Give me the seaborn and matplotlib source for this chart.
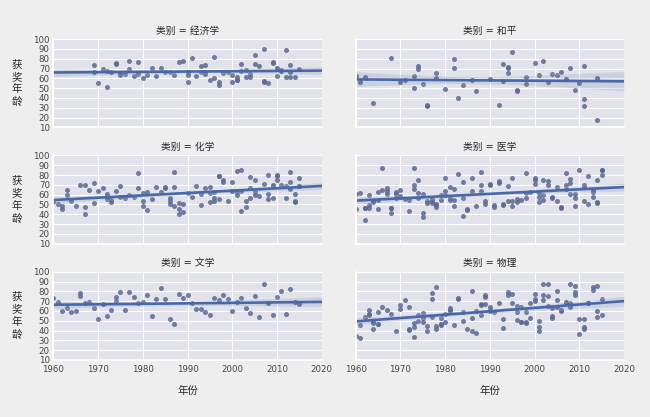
import matplotlib
matplotlib.use("Agg")
import matplotlib.pyplot as plt
import numpy as np
import pandas as pd
import seaborn as sns

# ---------------- data (year -> ages of laureates that year) ----------------
categories = ["经济学", "和平", "化学", "医学", "文学", "物理"]

econ = {1969: [74, 66], 1970: [55], 1971: [70], 1972: [68, 51], 1973: [67], 1974: [76, 75],
        1975: [63, 65], 1976: [64], 1977: [78, 70], 1978: [62], 1979: [77, 64], 1980: [60],
        1981: [63], 1982: [71], 1983: [62], 1984: [71], 1985: [67], 1986: [67], 1987: [63],
        1988: [77], 1989: [78], 1990: [63, 67, 56], 1991: [81], 1992: [62], 1993: [67, 73],
        1994: [74, 66, 64], 1995: [58], 1996: [60, 82], 1997: [53, 56], 1998: [65], 1999: [67],
        2000: [56, 63], 2001: [61, 58, 58], 2002: [68, 75], 2003: [61, 69], 2004: [61, 64],
        2005: [75, 84], 2006: [73], 2007: [90, 57, 56], 2008: [55], 2009: [76, 77],
        2010: [70, 71, 62], 2011: [68, 69], 2012: [61, 89], 2013: [74, 61, 67], 2014: [61],
        2015: [70]}

peace = {1960: [62], 1961: [56], 1962: [61], 1964: [35], 1968: [81], 1970: [56], 1971: [58],
         1973: [50, 62], 1974: [70, 73], 1975: [54], 1976: [33, 32], 1978: [60, 65], 1980: [49],
         1982: [80, 71], 1983: [40], 1984: [53], 1986: [58], 1987: [47], 1990: [59], 1992: [33],
         1993: [57, 75], 1994: [65, 71, 72], 1995: [87], 1996: [48, 47], 1998: [61, 54],
         2000: [76], 2001: [63], 2002: [78], 2003: [56], 2004: [64], 2005: [63], 2006: [66],
         2007: [59], 2008: [71], 2009: [48], 2010: [55], 2011: [73, 39, 32], 2014: [60, 17]}

chem = {1960: [52], 1961: [50], 1962: [48, 45], 1963: [65, 60], 1964: [54], 1965: [48],
        1966: [70], 1967: [40, 70, 47], 1968: [65], 1969: [51, 72], 1970: [64], 1971: [67],
        1972: [56, 59, 61], 1973: [55, 52], 1974: [64], 1975: [58, 69], 1976: [57], 1977: [60],
        1978: [58], 1979: [67, 82], 1980: [54, 48, 62], 1981: [63, 44], 1982: [56], 1983: [68],
        1984: [63], 1985: [68, 67], 1986: [54, 50, 57], 1987: [68, 48, 83], 1988: [45, 51, 40],
        1989: [50, 42], 1990: [62], 1991: [58], 1992: [69], 1993: [49, 61], 1994: [67],
        1995: [62, 52, 68], 1996: [63, 57, 53], 1997: [79, 56, 79], 1998: [75, 73], 1999: [53],
        2000: [64, 73, 64], 2001: [84, 63, 60], 2002: [85, 43, 64], 2003: [54, 47],
        2004: [57, 67, 78], 2005: [75, 63, 60], 2006: [59], 2007: [71], 2008: [80, 61, 56],
        2009: [57, 69, 70], 2010: [79, 75, 80], 2011: [70], 2012: [69, 57], 2013: [83, 66, 73],
        2014: [54, 52, 61], 2015: [77, 69, 69]}

med = {1960: [61, 45], 1961: [62], 1962: [46, 34, 46], 1963: [60, 49, 46], 1964: [52, 53],
       1965: [45, 63, 55], 1966: [87, 65], 1967: [67, 64, 61], 1968: [46, 46, 41],
       1969: [63, 61, 57], 1970: [59, 65, 58], 1971: [56], 1972: [43, 55], 1973: [87, 70, 66],
       1974: [75, 57, 62], 1975: [37, 61, 41], 1976: [51, 53], 1977: [53, 51, 56],
       1978: [49, 50, 47], 1979: [55, 60], 1980: [60, 64, 77], 1981: [68, 55, 57],
       1982: [66, 48, 55], 1983: [81], 1984: [73, 38, 57], 1985: [44, 45], 1986: [64, 77],
       1987: [48], 1988: [64, 70, 83], 1989: [53, 50], 1990: [71, 70], 1991: [47, 49],
       1992: [72, 74], 1993: [50, 49], 1994: [53, 69], 1995: [77, 53, 48], 1996: [56, 52],
       1997: [55], 1998: [82, 57, 62], 1999: [63], 2000: [77, 75, 71], 2001: [62, 58, 52],
       2002: [75, 55, 60], 2003: [74, 70], 2004: [58, 57], 2005: [54, 68], 2006: [47, 46],
       2007: [70, 66, 82], 2008: [72, 61, 76], 2009: [61, 48, 57], 2010: [85],
       2011: [54, 70, 68], 2012: [79, 50], 2013: [63, 65, 58], 2014: [75, 51, 52],
       2015: [85, 80, 85]}

lit = {1960: [73], 1961: [69], 1962: [60], 1963: [63], 1964: [59], 1965: [60], 1966: [78, 75],
       1967: [68], 1968: [69], 1969: [63], 1970: [52], 1971: [67], 1972: [55], 1973: [61],
       1974: [74, 70], 1975: [79], 1976: [61], 1977: [79], 1978: [74], 1979: [68], 1980: [69],
       1981: [76], 1982: [55], 1983: [72], 1984: [83], 1985: [72], 1986: [52], 1987: [47],
       1988: [77], 1989: [73], 1990: [76], 1991: [68], 1992: [62], 1993: [62], 1994: [59],
       1995: [56], 1996: [73], 1997: [71], 1998: [76], 1999: [72], 2000: [60], 2001: [69],
       2002: [73], 2003: [63], 2004: [58], 2005: [75], 2006: [54], 2007: [88], 2008: [68],
       2009: [56], 2010: [74], 2011: [80], 2012: [57], 2013: [82], 2014: [69], 2015: [67]}

phys = {1960: [34], 1961: [46, 32], 1962: [54], 1963: [61, 57, 56], 1964: [49, 42, 48],
        1965: [59, 47, 47], 1966: [64], 1967: [61], 1968: [57], 1969: [40], 1970: [62, 66],
        1971: [71], 1972: [64, 42, 41], 1973: [48, 44, 33], 1974: [56, 50], 1975: [53, 49, 58],
        1976: [45, 40], 1977: [54, 72, 78], 1978: [84, 45, 42], 1979: [47, 53, 46],
        1980: [49, 57], 1981: [61, 60, 63], 1982: [46], 1983: [73, 72], 1984: [50, 59],
        1985: [42], 1986: [80, 39, 53], 1987: [37, 60], 1988: [66, 56, 67], 1989: [74, 67, 76],
        1990: [60, 64, 61], 1991: [59], 1992: [68], 1993: [43, 52], 1994: [76, 79],
        1995: [68, 77], 1996: [65, 51, 59], 1997: [49, 64, 49], 1998: [48, 49, 59],
        1999: [53, 68], 2000: [70, 72, 77], 2001: [40, 44, 50], 2002: [88, 76, 71],
        2003: [75, 87, 65], 2004: [63, 55, 53], 2005: [80, 71, 64], 2006: [60, 61],
        2007: [69, 68], 2008: [87, 64, 68], 2009: [76, 85, 79], 2010: [52, 36],
        2011: [52, 44, 42], 2012: [68, 68], 2013: [81, 84], 2014: [85, 54, 60], 2015: [56, 72]}

x_ticks = [1960, 1970, 1980, 1990, 2000, 2010, 2020]
y_ticks = [10, 20, 30, 40, 50, 60, 70, 80, 90, 100]

# ---------------- table ----------------
rows = []
for cat, d in zip(categories, [econ, peace, chem, med, lit, phys]):
    for yr, ages in d.items():
        for a in ages:
            rows.append((cat, yr, a))
df = pd.DataFrame(rows, columns=["类别", "年份", "获奖年龄"])

# ---------------- style ----------------
sns.set_theme(style="darkgrid", rc={
    "axes.facecolor": "#E2E3EA",
    "figure.facecolor": "#EEEEEE",
    "grid.color": "white",
    "grid.linewidth": 0.8,
    "xtick.color": "#444444",
    "ytick.color": "#444444",
    "text.color": "#262626",
    "axes.labelcolor": "#262626",
})
plt.rcParams["font.family"] = ["DejaVu Sans", "Noto Sans CJK SC"]

g = sns.lmplot(data=df, x="年份", y="获奖年龄", col="类别", col_wrap=2,
               col_order=categories, height=1.4, aspect=3.0, truncate=False, seed=0,
               scatter_kws=dict(s=13, alpha=0.85, linewidths=0, color="#5B6891"),
               line_kws=dict(lw=1.9, color="#4A68A8"),
               facet_kws=dict(xlim=(1960, 2020), ylim=(10, 100)))

fig = g.figure
fig.set_size_inches(6.5, 4.17)
fig.set_facecolor("#EEEEEE")

g.set_titles("{col_var} = {col_name}", size=7, pad=4)

axes = g.axes.flat
for i, ax in enumerate(axes):
    ax.set_xlim(1960, 2020)
    ax.set_ylim(10, 100)
    ax.set_xticks(x_ticks)
    ax.set_yticks(y_ticks)
    ax.tick_params(axis="y", labelsize=6.2, pad=2.5, length=0)
    ax.tick_params(axis="x", labelsize=6.2, pad=4, length=0)
    ax.set_xlabel("")
    ax.set_ylabel("")
    if i % 2 == 0:
        ax.set_ylabel("获\n奖\n年\n龄", rotation=0, fontsize=7.5, linespacing=1.3,
                      ha="center", va="center")
        ax.yaxis.set_label_coords(-0.135, 0.5)
    if i >= 4:
        ax.set_xlabel("年份", fontsize=7.5, labelpad=8)

fig.subplots_adjust(left=0.082, right=0.96, bottom=0.137, top=0.906,
                    wspace=0.126, hspace=0.32)
fig.savefig("out.png", dpi=100, facecolor=fig.get_facecolor())
